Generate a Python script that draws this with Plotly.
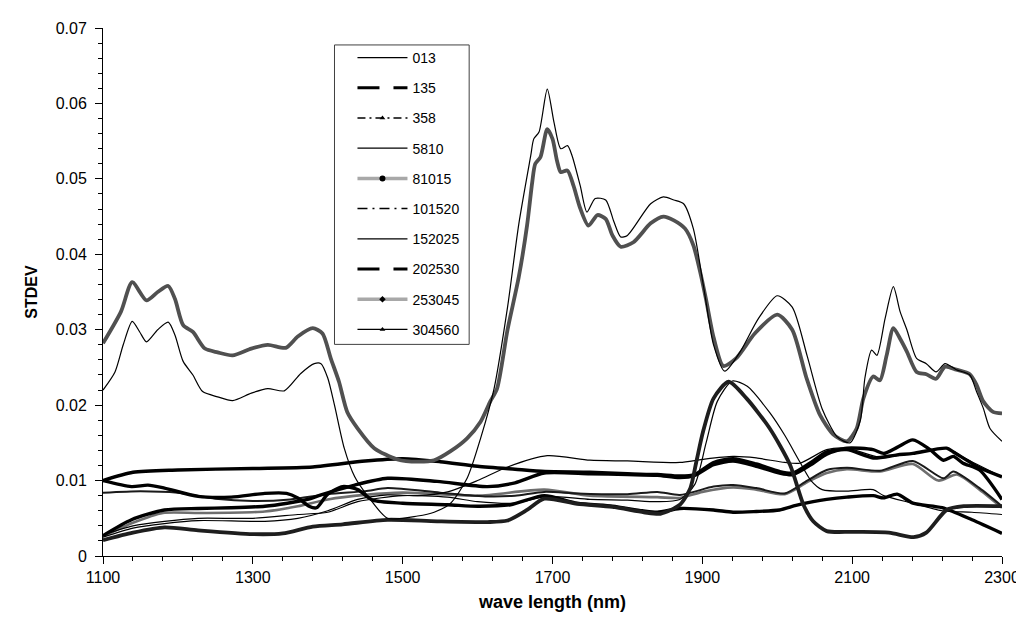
import plotly.graph_objects as go

# ---------------- data ----------------
legend_names = ["013", "135", "358", "5810", "81015", "101520", "152025", "202530", "253045", "304560"]

# big thin curve
B_nm = [1100,1116,1127,1139,1149,1158,1173,1187,1196,1207,1220,1233,1253,1273,1298,1320,1342,1364,1382,1391,1400,1409,1422,1436,1453,1480,1520,1542,1564,1586,1604,1622,1640,1655,1671,1675,1682,1693,1702,1711,1720,1726,1737,1746,1757,1771,1782,1791,1800,1831,1848,1862,1875,1888,1902,1915,1930,1950,1975,2000,2020,2040,2060,2080,2097,2111,2117,2126,2133,2144,2155,2164,2173,2186,2199,2212,2224,2239,2257,2266,2275,2284,2300]
B_val = [0.0220,0.0244,0.0280,0.0311,0.0297,0.0284,0.0300,0.0310,0.0293,0.0258,0.0240,0.0218,0.0211,0.0206,0.0216,0.0222,0.0219,0.0242,0.0255,0.0255,0.0236,0.0200,0.0143,0.0105,0.0080,0.0050,0.0053,0.0058,0.0070,0.0103,0.0156,0.0222,0.0330,0.0440,0.0531,0.0553,0.0562,0.0619,0.0575,0.0540,0.0544,0.0531,0.0491,0.0456,0.0474,0.0472,0.0443,0.0423,0.0425,0.0467,0.0476,0.0472,0.0467,0.0434,0.0355,0.0280,0.0245,0.0270,0.0315,0.0345,0.0330,0.0265,0.0195,0.0158,0.0150,0.0180,0.0236,0.0273,0.0266,0.0315,0.0357,0.0324,0.0300,0.0262,0.0255,0.0244,0.0255,0.0247,0.0240,0.0218,0.0196,0.0169,0.0152]

# big grey curve
A_nm = [1100,1124,1139,1158,1173,1187,1196,1207,1220,1236,1253,1273,1298,1320,1344,1360,1380,1393,1404,1415,1426,1440,1462,1493,1520,1542,1564,1586,1604,1617,1626,1640,1655,1666,1673,1677,1684,1693,1700,1706,1711,1720,1728,1737,1748,1760,1771,1780,1791,1808,1831,1848,1862,1877,1888,1897,1905,1915,1928,1945,1970,2000,2020,2039,2057,2075,2093,2106,2115,2128,2137,2146,2155,2164,2173,2186,2199,2212,2224,2239,2257,2266,2275,2288,2300]
A_val = [0.0282,0.0324,0.0363,0.0339,0.0350,0.0358,0.0341,0.0306,0.0297,0.0275,0.0270,0.0266,0.0275,0.0280,0.0276,0.0291,0.0302,0.0295,0.0262,0.0231,0.0191,0.0169,0.0143,0.0128,0.0125,0.0127,0.0139,0.0156,0.0178,0.0205,0.0222,0.0300,0.0370,0.0438,0.0496,0.0520,0.0529,0.0566,0.0553,0.0524,0.0509,0.0511,0.0491,0.0461,0.0438,0.0452,0.0447,0.0425,0.0410,0.0416,0.0441,0.0450,0.0445,0.0434,0.0412,0.0377,0.0340,0.0290,0.0252,0.0262,0.0295,0.0320,0.0300,0.0236,0.0187,0.0161,0.0152,0.0169,0.0209,0.0238,0.0233,0.0266,0.0302,0.0288,0.0271,0.0244,0.0241,0.0235,0.0251,0.0247,0.0241,0.0227,0.0205,0.0191,0.0189]

# dotted thick curve with the peak near 1935 nm
C_nm = [1100,1140,1182,1227,1300,1340,1380,1420,1480,1546,1613,1640,1666,1689,1733,1780,1822,1844,1870,1884,1892,1901,1915,1935,1959,1990,2017,2035,2048,2066,2100,2149,2182,2199,2226,2249,2300]
C_val = [0.0021,0.0031,0.0038,0.0034,0.0029,0.0030,0.0039,0.0042,0.0048,0.0046,0.0045,0.0047,0.0061,0.0076,0.0069,0.0065,0.0058,0.0056,0.0068,0.0090,0.0125,0.0165,0.0209,0.0231,0.0209,0.0169,0.0121,0.0068,0.0046,0.0033,0.0032,0.0031,0.0025,0.0031,0.0061,0.0066,0.0066]

# thin partner of the 1940 nm peak
D_nm = [1100,1140,1182,1227,1300,1360,1400,1440,1500,1560,1600,1650,1693,1750,1800,1840,1870,1890,1905,1920,1940,1960,1990,2010,2030,2045,2060,2093,2128,2142,2181,2220,2260,2300]
D_val = [0.0028,0.0040,0.0046,0.0050,0.0050,0.0055,0.0058,0.0072,0.0080,0.0078,0.0072,0.0070,0.0079,0.0075,0.0074,0.0072,0.0075,0.0095,0.0150,0.0205,0.0232,0.0225,0.0190,0.0160,0.0125,0.0100,0.0088,0.0086,0.0088,0.0080,0.0070,0.0060,0.0058,0.0055]

# thick low curves
L1_nm = [1100,1140,1200,1300,1380,1450,1500,1550,1600,1650,1690,1750,1800,1840,1870,1890,1915,1941,1972,2003,2021,2048,2066,2093,2128,2160,2181,2226,2235,2270,2300]
L1_val = [0.0100,0.0111,0.0114,0.0116,0.0118,0.0126,0.0129,0.0125,0.0119,0.0115,0.0112,0.0111,0.0109,0.0108,0.0106,0.0108,0.0124,0.0129,0.0122,0.0112,0.0110,0.0126,0.0138,0.0141,0.0130,0.0134,0.0136,0.0143,0.0138,0.0117,0.0105]

L2_nm = [1100,1138,1160,1182,1227,1271,1316,1345,1360,1375,1385,1400,1420,1440,1460,1500,1560,1600,1644,1689,1733,1780,1820,1840,1870,1915,1941,1972,2003,2025,2048,2066,2093,2128,2142,2160,2181,2220,2260,2300]
L2_val = [0.0100,0.0092,0.0094,0.0090,0.0079,0.0078,0.0083,0.0083,0.0077,0.0066,0.0064,0.0082,0.0092,0.0088,0.0074,0.0070,0.0068,0.0066,0.0068,0.0080,0.0070,0.0066,0.0060,0.0058,0.0063,0.0061,0.0058,0.0059,0.0061,0.0067,0.0072,0.0075,0.0078,0.0080,0.0077,0.0082,0.0070,0.0064,0.0048,0.0030]

L3_nm = [1100,1138,1182,1227,1271,1316,1346,1373,1391,1436,1480,1546,1613,1650,1689,1750,1800,1840,1870,1890,1915,1941,1972,2003,2021,2048,2066,2093,2128,2142,2160,2181,2204,2222,2235,2248,2270,2300]
L3_val = [0.0027,0.0048,0.0061,0.0063,0.0064,0.0066,0.0070,0.0075,0.0081,0.0094,0.0103,0.0099,0.0092,0.0097,0.0110,0.0109,0.0108,0.0107,0.0104,0.0107,0.0121,0.0126,0.0119,0.0110,0.0108,0.0123,0.0135,0.0143,0.0141,0.0136,0.0144,0.0154,0.0141,0.0127,0.0132,0.0123,0.0114,0.0075]

# dash-dot curves
G1_nm = [1100,1150,1200,1250,1300,1350,1400,1450,1480,1550,1613,1650,1689,1733,1800,1840,1870,1915,1941,1972,2010,2040,2066,2093,2137,2181,2222,2235,2270,2300]
G1_val = [0.0084,0.0086,0.0084,0.0076,0.0073,0.0075,0.0082,0.0086,0.0090,0.0084,0.0079,0.0080,0.0085,0.0083,0.0082,0.0085,0.0081,0.0092,0.0094,0.0090,0.0083,0.0100,0.0114,0.0117,0.0113,0.0126,0.0103,0.0112,0.0090,0.0066]

G2_nm = [1100,1140,1180,1230,1316,1360,1400,1450,1500,1600,1689,1750,1840,1870,1900,1941,1972,2010,2040,2066,2093,2137,2181,2215,2240,2270,2300]
G2_val = [0.0026,0.0044,0.0057,0.0057,0.0059,0.0066,0.0075,0.0081,0.0084,0.0080,0.0088,0.0080,0.0078,0.0077,0.0085,0.0091,0.0088,0.0082,0.0098,0.0110,0.0115,0.0112,0.0122,0.0100,0.0108,0.0088,0.0064]

# thin low curve ending high on the right
T1_nm = [1100,1140,1182,1227,1316,1360,1400,1440,1480,1520,1560,1600,1640,1693,1750,1800,1870,1900,1941,1972,2010,2030,2066,2093,2137,2181,2226,2250,2300]
T1_val = [0.0025,0.0037,0.0043,0.0047,0.0046,0.0050,0.0060,0.0075,0.0081,0.0080,0.0085,0.0100,0.0118,0.0133,0.0127,0.0126,0.0124,0.0128,0.0132,0.0130,0.0124,0.0123,0.0141,0.0143,0.0131,0.0136,0.0143,0.0130,0.0105]

x_ticks = [1100, 1300, 1500, 1700, 1900, 2100, 2300]

# ---------------- figure ----------------
fig = go.Figure()

series = [
    # (x, y, colour, width)
    (G2_nm, G2_val, "#6e6e6e", 2.6),
    (G1_nm, G1_val, "#1a1a1a", 2.0),
    (T1_nm, T1_val, "black", 1.2),
    (D_nm, D_val, "black", 1.2),
    (L2_nm, L2_val, "black", 3.4),
    (L3_nm, L3_val, "black", 3.4),
    (L1_nm, L1_val, "black", 3.4),
    (C_nm, C_val, "#1e1e1e", 3.8),
    (A_nm, A_val, "#505050", 3.8),
    (B_nm, B_val, "black", 1.2),
]
for xs, ys, col, w in series:
    fig.add_trace(go.Scatter(x=xs, y=ys, mode="lines", showlegend=False,
                             line=dict(color=col, width=w, shape="spline", smoothing=0.7),
                             hoverinfo="skip"))

# legend entries (styles as in the chart legend)
leg_styles = [
    dict(line=dict(color="black", width=1.2), mode="lines"),
    dict(line=dict(color="black", width=3, dash="22px,14px"), mode="lines"),
    dict(line=dict(color="black", width=1.5, dash="8px,4px,2px,4px"), mode="lines+markers",
         marker=dict(symbol="triangle-up", size=5, color="black")),
    dict(line=dict(color="black", width=1.2), mode="lines"),
    dict(line=dict(color="#a8a8a8", width=3.5), mode="lines+markers",
         marker=dict(symbol="circle", size=6, color="black")),
    dict(line=dict(color="black", width=1.5, dash="10px,5px,2px,5px"), mode="lines"),
    dict(line=dict(color="black", width=1.2), mode="lines"),
    dict(line=dict(color="black", width=3, dash="22px,14px"), mode="lines"),
    dict(line=dict(color="#a8a8a8", width=3.5), mode="lines+markers",
         marker=dict(symbol="diamond", size=5, color="black")),
    dict(line=dict(color="black", width=1.2), mode="lines+markers",
         marker=dict(symbol="triangle-up", size=5, color="black")),
]
for i, (name, st) in enumerate(zip(legend_names, leg_styles)):
    fig.add_trace(go.Scatter(x=[None], y=[None], name=name, legendgroup=f"g{i}",
                             showlegend=True, **st))

axis_font = dict(family="Liberation Sans, Arial, sans-serif", size=16, color="black")

# legend frame drawn as a shape so that the entries get the wider left padding
fig.add_shape(type="rect", xref="paper", yref="paper",
              x0=0.2575, x1=0.4073, y0=0.4008, y1=0.9679,
              line=dict(color="#404040", width=1), fillcolor="white", layer="above")

fig.update_layout(
    width=1024, height=623,
    margin=dict(l=95, r=28, t=19, b=75),
    paper_bgcolor="white", plot_bgcolor="white",
    font=axis_font,
    xaxis=dict(range=[1100, 2300], tickvals=x_ticks, showgrid=False, zeroline=False,
               showline=True, linecolor="black", linewidth=1,
               ticks="outside", ticklen=7, tickcolor="black",
               minor=dict(dtick=40, tick0=1100, ticks="outside", ticklen=4, tickcolor="black"),
               title=dict(text="<b>wave length (nm)</b>", font=dict(size=18), standoff=10)),
    yaxis=dict(range=[0, 0.07], dtick=0.01, showgrid=False, zeroline=False,
               showline=True, linecolor="black", linewidth=1,
               ticks="outside", ticklen=7, tickcolor="black", ticklabelstandoff=5,
               minor=dict(dtick=0.002, ticks="outside", ticklen=4, tickcolor="black"),
               title=dict(text="<b>STDEV</b>", font=dict(size=16), standoff=14)),
    legend=dict(x=0.2775, y=0.9735, xanchor="left", yanchor="top",
                bgcolor="rgba(0,0,0,0)", borderwidth=0,
                font=dict(size=14), tracegroupgap=9, itemwidth=50),
)

fig.write_html("out.html")
